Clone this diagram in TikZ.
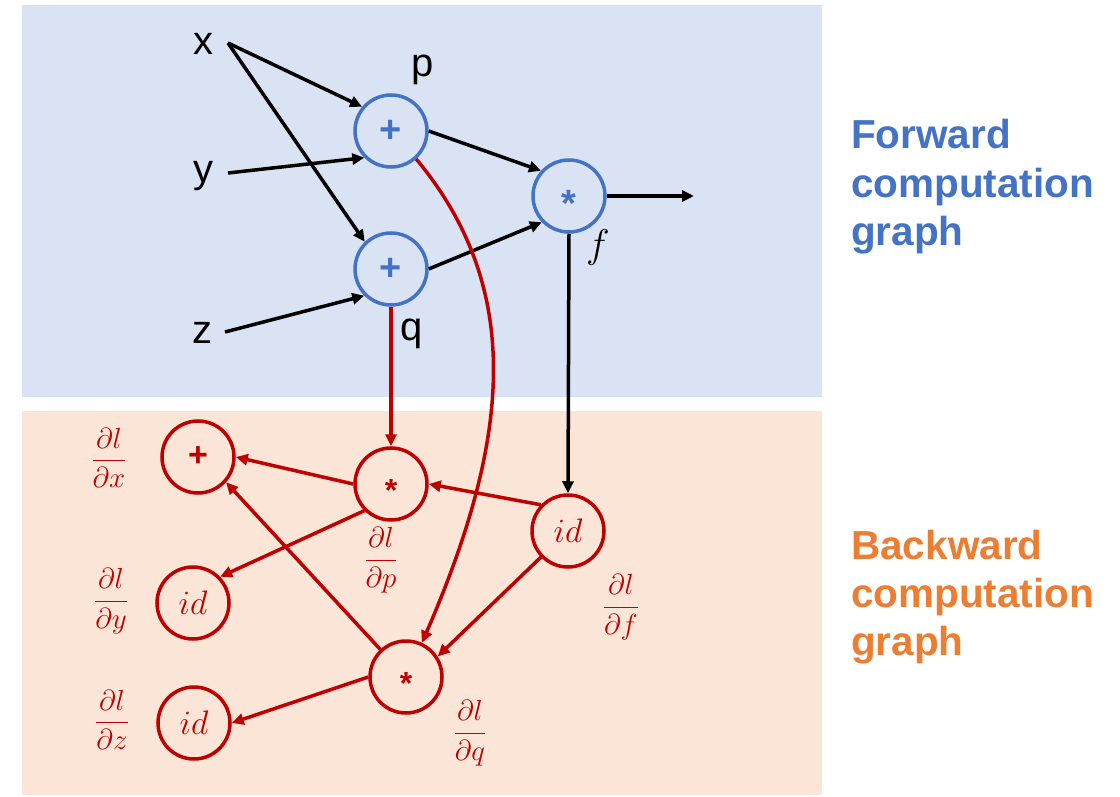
\RequirePackage{fix-cm}
\documentclass[tikz,border=0pt]{standalone}
\usepackage{fontspec}
\setmainfont{Liberation Sans}
\usetikzlibrary{arrows.meta}
\definecolor{fwdbg}{HTML}{DAE3F3}
\definecolor{bwdbg}{HTML}{FBE5D6}
\definecolor{fwdblue}{HTML}{4472C4}
\definecolor{bwdred}{HTML}{C00000}
\definecolor{bwdorange}{HTML}{ED7D31}
\begin{document}
\begin{tikzpicture}[x=1pt,y=-1pt,
  fcirc/.style={circle,draw=fwdblue,line width=3.5pt,minimum size=72pt,inner sep=0pt,text=fwdblue,font=\fontsize{38}{38}\selectfont\bfseries},
  bcirc/.style={circle,draw=bwdred,line width=3.5pt,minimum size=72pt,inner sep=0pt,text=bwdred,font=\fontsize{34}{34}\selectfont\bfseries},
  idtxt/.style={font=\fontsize{34}{34}\selectfont},
  asttxt/.style={font=\fontsize{32}{32}\selectfont\bfseries},
  varlbl/.style={anchor=base west,inner sep=0pt,font=\fontsize{40}{40}\selectfont},
  gradlbl/.style={text=bwdred,inner sep=0pt,font=\fontsize{29}{32}\selectfont},
  fwdtxt/.style={anchor=base west,inner sep=0pt,text=fwdblue,font=\fontsize{40.5}{44}\selectfont\bfseries},
  bwdtxt/.style={anchor=base west,inner sep=0pt,text=bwdorange,font=\fontsize{40.5}{44}\selectfont\bfseries},
  blkarr/.style={draw=black,line width=3.5pt,-{Triangle[length=12pt,width=11pt]}},
  redarr/.style={draw=bwdred,line width=3.5pt,-{Triangle[length=12pt,width=11pt]}}
]
\useasboundingbox (0,0) rectangle (1120,797);
\fill[fwdbg] (22,5) rectangle (822,397);
\fill[bwdbg] (22,411) rectangle (822,795);

% forward nodes
\node[fcirc] (p) at (391,131) {+};
\node[fcirc] (q) at (391,269) {+};
\node[fcirc] (f) at (569,196) {\smash{\raisebox{-0.55em}{*}}};

\node[varlbl] (xl) at (193,55) {x};
\node[varlbl] (yl) at (193,183) {y};
\node[varlbl] (zl) at (192,343) {z};
\node[varlbl] (pl) at (411,77) {p};
\node[varlbl] (ql) at (400,340) {q};
\node[inner sep=0pt,font=\fontsize{40}{40}\selectfont] (fl) at (598,247) {$f$};

\coordinate (xs) at (228,43);
\coordinate (ys) at (228,173);
\coordinate (zs) at (225,332);
\coordinate (out) at (694,196);

\draw[blkarr] (xs) -- (p.140);
\draw[blkarr] (xs) -- (q.134);
\draw[blkarr] (ys) -- (p.225);
\draw[blkarr] (zs) -- (q.225);
\draw[blkarr] (p.east) -- (f.138);
\draw[blkarr] (q.east) -- (f.224);
\draw[blkarr] (f.east) -- (out);

% backward nodes
\node[bcirc] (bx) at (198,457) {+};
\node[bcirc,idtxt] (by) at (193,603) {$id$};
\node[bcirc,idtxt] (bz) at (194,723) {$id$};
\node[bcirc,asttxt] (bp) at (391,484) {\smash{\raisebox{-0.55em}{*}}};
\node[bcirc,idtxt] (bf) at (568,531) {$id$};
\node[bcirc,asttxt] (bq) at (406,677) {\smash{\raisebox{-0.55em}{*}}};

\node[gradlbl] (gx) at (109,458) {$\displaystyle\frac{\partial l}{\partial x}$};
\node[gradlbl] (gy) at (111,601) {$\displaystyle\frac{\partial l}{\partial y}$};
\node[gradlbl] (gz) at (112,720) {$\displaystyle\frac{\partial l}{\partial z}$};
\node[gradlbl] (gp) at (381,560) {$\displaystyle\frac{\partial l}{\partial p}$};
\node[gradlbl] (gf) at (621,607) {$\displaystyle\frac{\partial l}{\partial f}$};
\node[gradlbl] (gq) at (470,733) {$\displaystyle\frac{\partial l}{\partial q}$};

\draw[blkarr] (f.south) -- (bf.north);
\draw[redarr] (q.south) -- (bp.north);
\draw[redarr] (p.-48) .. controls (525,290) and (510,440) .. (bq.65);

\draw[redarr] (bp.west) -- (bx.east);
\draw[redarr] (bp.225) -- (by.44);
\draw[redarr] (bq.133) -- (bx.-42);
\draw[redarr] (bq.west) -- (bz.east);
\draw[redarr] (bf.136) -- (bp.east);
\draw[redarr] (bf.224) -- (bq.33);

% side titles
\node[fwdtxt] (ft1) at (851,149) {Forward};
\node[fwdtxt] (ft2) at (851,197) {computation};
\node[fwdtxt] (ft3) at (851,245) {graph};
\node[bwdtxt] (bt1) at (851,559) {Backward};
\node[bwdtxt] (bt2) at (851,607) {computation};
\node[bwdtxt] (bt3) at (851,655) {graph};
\end{tikzpicture}
\end{document}
